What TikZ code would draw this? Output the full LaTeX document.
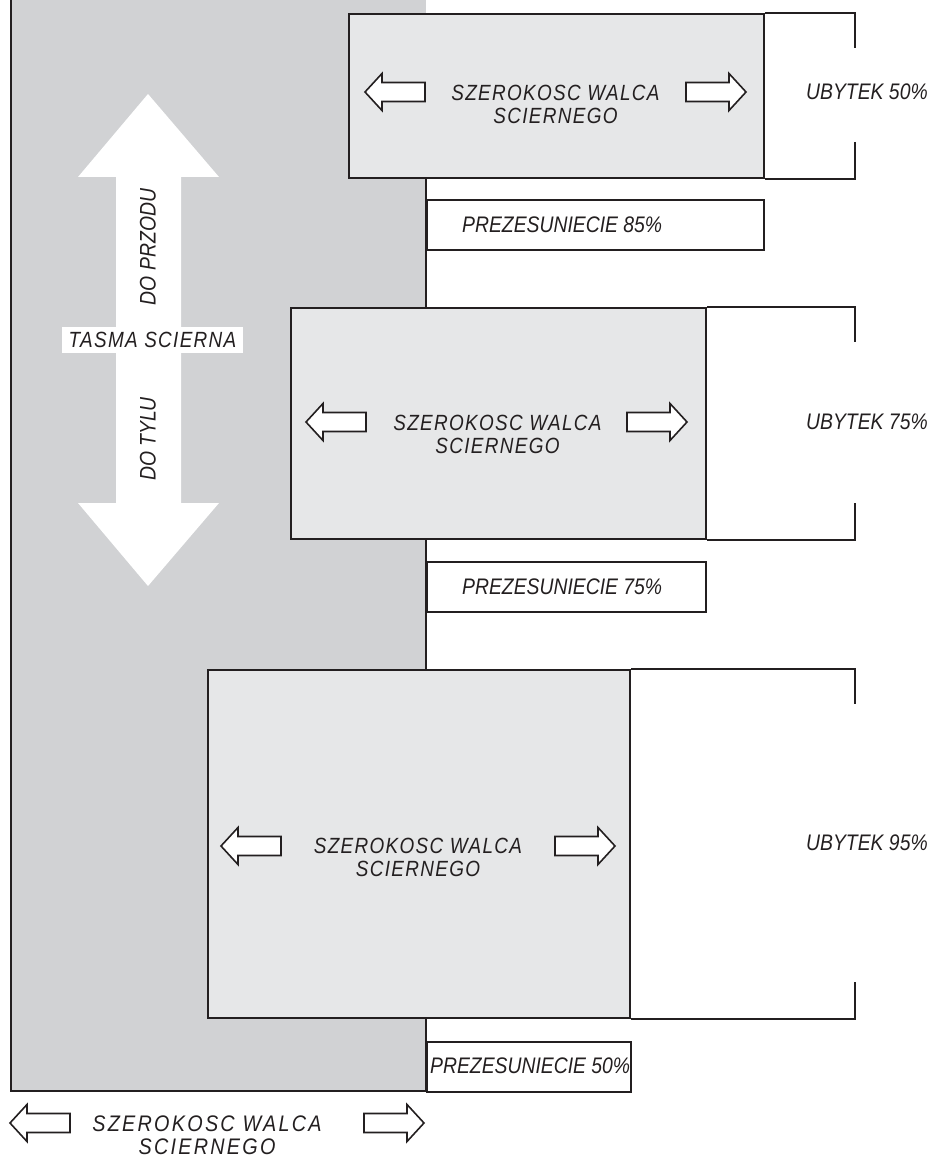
\documentclass[tikz,border=0pt]{standalone}
\usepackage{fontspec}
\setmainfont{Liberation Sans}[FakeStretch=0.86]
\newfontfamily\spacedfont{Liberation Sans}[FakeStretch=0.86, LetterSpace=6]
\newfontfamily\widerfont{Liberation Sans}[FakeStretch=0.88, LetterSpace=10]
\definecolor{ink}{HTML}{231F20}
\definecolor{belt}{HTML}{D1D2D4}
\definecolor{wheel}{HTML}{E6E7E8}
\begin{document}
\begin{tikzpicture}[x=1pt,y=-1pt,
  frame/.style={line width=2pt, draw=ink},
  wheelbox/.style={frame, fill=wheel, anchor=north west, inner sep=0pt},
  shiftbox/.style={frame, fill=white, anchor=north west, inner sep=0pt},
  lbl/.style={font=\fontsize{22.5}{23}\selectfont\itshape, text=ink, inner sep=0pt},
  widelbl/.style={font=\fontsize{22}{23}\selectfont\spacedfont\itshape, text=ink, inner sep=0pt, align=center},
  widestlbl/.style={font=\fontsize{22.5}{23}\selectfont\widerfont\itshape, text=ink, inner sep=0pt, align=center},
  arrowline/.style={line width=1.6pt, draw=ink, fill=white, line join=miter},
  leftarrow/.pic={\draw[arrowline] (0,0) -- (17,-18.5) -- (17,-9.5) -- (60,-9.5) -- (60,9.5) -- (17,9.5) -- (17,18.5) -- cycle;},
  rightarrow/.pic={\draw[arrowline] (0,0) -- (-17,-18.5) -- (-17,-9.5) -- (-60,-9.5) -- (-60,9.5) -- (-17,9.5) -- (-17,18.5) -- cycle;}]
\useasboundingbox (0,0) rectangle (930,1158);

% abrasive belt
\fill[belt] (11,0) rectangle (426,1091);
\draw[frame] (11,0) -- (11,1091) -- (426,1091) -- (426,150);

% contact wheels in three offset positions
\node[wheelbox, minimum width=415, minimum height=164] (w1) at (348,13) {};
\node[wheelbox, minimum width=415, minimum height=231] (w2) at (290,307) {};
\node[wheelbox, minimum width=422, minimum height=348] (w3) at (207,669) {};

% wear brackets
\coordinate (b1t) at (855,48);  \coordinate (b1b) at (855,142);
\coordinate (b2t) at (855,342); \coordinate (b2b) at (855,503);
\coordinate (b3t) at (855,704); \coordinate (b3b) at (855,982);
\draw[frame] (w1.north east) -- (w1.north east -| b1t) -- (b1t);
\draw[frame] (b1b) -- (w1.south east -| b1b) -- (w1.south east);
\draw[frame] (w2.north east) -- (w2.north east -| b2t) -- (b2t);
\draw[frame] (b2b) -- (w2.south east -| b2b) -- (w2.south east);
\draw[frame] (w3.north east) -- (w3.north east -| b3t) -- (b3t);
\draw[frame] (b3b) -- (w3.south east -| b3b) -- (w3.south east);

% offset boxes
\node[shiftbox, minimum width=337, minimum height=50] (s1) at (426,199) {};
\node[shiftbox, minimum width=279, minimum height=50] (s2) at (426,561) {};
\node[shiftbox, minimum width=204, minimum height=50] (s3) at (426,1041) {};
\node[lbl, anchor=west] (s1t) at (462,225) {PREZESUNIECIE 85\%};
\node[lbl, anchor=west] (s2t) at (462,587) {PREZESUNIECIE 75\%};
\node[lbl, anchor=west] (s3t) at (430,1066) {PREZESUNIECIE 50\%};

% belt travel arrow
\fill[white] (148,94) -- (219,177) -- (181,177) -- (181,503) -- (219,503)
  -- (148,586) -- (78,503) -- (116,503) -- (116,177) -- (78,177) -- cycle;
\node[lbl, rotate=90] (fwd) at (148,247) {DO PRZODU};
\node[lbl, rotate=90] (back) at (148,439) {DO TYLU};
\node[fill=white, minimum width=181, minimum height=26, inner sep=0pt] (beltbox) at (152.5,340) {};
\node[widelbl] (beltlbl) at (beltbox) {TASMA SCIERNA};

% width arrows and labels
\pic at (365,92) {leftarrow};
\pic at (746,92) {rightarrow};
\node[widelbl] (w1t) at (555.5,104.5) {SZEROKOSC WALCA\\SCIERNEGO};
\pic at (306,422) {leftarrow};
\pic at (687,422) {rightarrow};
\node[widelbl] (w2t) at (497.5,434.5) {SZEROKOSC WALCA\\SCIERNEGO};
\pic at (221,846) {leftarrow};
\pic at (615,846) {rightarrow};
\node[widelbl] (w3t) at (418,857.5) {SZEROKOSC WALCA\\SCIERNEGO};
\pic at (10,1123) {leftarrow};
\pic at (424,1123) {rightarrow};
\node[widestlbl] (bt) at (207,1135) {SZEROKOSC WALCA\\SCIERNEGO};

% wear labels
\node[lbl, anchor=west] (u1) at (806,92) {UBYTEK 50\%};
\node[lbl, anchor=west] (u2) at (806,422) {UBYTEK 75\%};
\node[lbl, anchor=west] (u3) at (806,843) {UBYTEK 95\%};
\end{tikzpicture}
\end{document}
